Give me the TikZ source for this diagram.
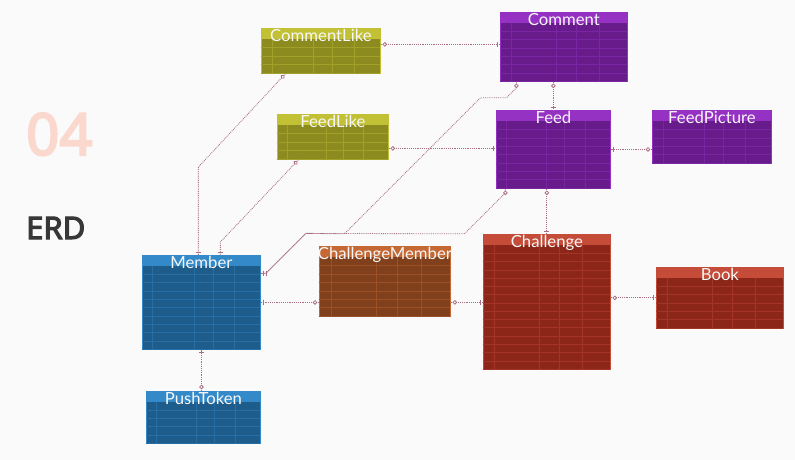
\documentclass[tikz,border=0pt]{standalone}
\usepackage{fontspec}
\setmainfont{Lato}
\newfontfamily\notosans{Noto Sans}[AutoFakeBold=3.5]
\usetikzlibrary{calc,
	positioning,
	decorations.markings}
\definecolor{bgc}{RGB}{250,250,250}
\definecolor{fourc}{RGB}{250,216,205}
\definecolor{erdc}{RGB}{55,55,55}
\definecolor{relc}{RGB}{170,110,132}
\definecolor{oliveh}{RGB}{194,192,52}
\definecolor{oliveb}{RGB}{139,139,32}
\definecolor{purph}{RGB}{150,50,195}
\definecolor{purpb}{RGB}{104,28,140}
\definecolor{blueh}{RGB}{52,138,200}
\definecolor{blueb}{RGB}{30,92,140}
\definecolor{brownh}{RGB}{196,104,52}
\definecolor{brownb}{RGB}{128,64,28}
\definecolor{redh}{RGB}{196,76,56}
\definecolor{redb}{RGB}{139,38,24}
\tikzstyle{tbl}=[draw, line width=0.8pt, inner sep=0, anchor=north west]
\tikzstyle{ttl}=[text=white!97!black, font=\fontsize{16.7}{17}\selectfont,
		inner sep=0, anchor=base]
\tikzstyle{cell}=[line width=0.4pt]
\tikzstyle{rel}=[draw=relc, densely dotted, line width=0.85pt]
\tikzstyle{mk}=[solid, draw=relc, line width=0.8pt]
\tikzstyle{barend}=[postaction={decorate, decoration={markings,
		mark=at position -3pt with {\draw[mk] (0,-2.5pt) -- (0,2.5pt);}}}]
\tikzstyle{dbarend}=[postaction={decorate, decoration={markings,
		mark=at position -3pt with {\draw[mk] (0,-2.5pt) -- (0,2.5pt);},
		mark=at position -6pt with {\draw[mk] (0,-2.5pt) -- (0,2.5pt);}}}]
\tikzstyle{ostart}=[postaction={decorate, decoration={markings,
		mark=at position 4pt with {\draw[mk, fill=white] (0,0) circle (1.8pt);}}}]
% table: name, x1, y1, x2, y2, rows, colour, title
\newcommand{\erdtable}[8]{%
	\node[tbl, draw=#7h, fill=#7b, minimum width={(#4-#2)*1pt},
		minimum height={(#5-#3)*1pt}] (#1) at (#2,#3) {};
	\fill[#7h] (#2,#3) rectangle (#4,#3+11);
	\foreach \i in {1,...,#6} {
		\pgfmathsetmacro\yy{#3+11+\i*(#5-#3-11)/#6}
		\draw[cell, #7h!40!#7b] (#2,\yy) -- (#4,\yy);
	}
	\foreach \f in {0.09,0.44,0.60,0.78} {
		\pgfmathsetmacro\xx{#2+\f*(#4-#2)}
		\draw[cell, #7h!40!#7b] (\xx,#3+11) -- (\xx,#5);
	}
	\node[ttl] (#1-t) at ([yshift=-13.5pt]#1.north) {#8};
}

\begin{document}
\begin{tikzpicture}[x=1pt, y=-1pt]
	\fill[bgc] (0,0) rectangle (795,460);
	\useasboundingbox (0,0) rectangle (795,460);

	\node[font=\notosans\bfseries\fontsize{58}{58}\selectfont, text=fourc,
		anchor=base west, inner sep=0] (num) at (26,155) {04};
	\node[font=\notosans\bfseries\fontsize{31}{31}\selectfont, text=erdc,
		anchor=base west, inner sep=0] (erd) at (26,239) {ERD};

	\erdtable{clike}{261}{28}{380}{73}{4}{olive}{CommentLike}
	\erdtable{comment}{500}{12}{627}{81}{7}{purp}{Comment}
	\erdtable{flike}{277}{114}{388}{159}{4}{olive}{FeedLike}
	\erdtable{feed}{496}{110}{610}{188}{8}{purp}{Feed}
	\erdtable{fpic}{652}{110}{771}{163}{5}{purp}{FeedPicture}
	\erdtable{member}{142}{255}{260}{349}{10}{blue}{Member}
	\erdtable{cm}{319}{246}{450}{316}{7}{brown}{ChallengeMember}
	\erdtable{chal}{483}{234}{610}{369}{15}{red}{Challenge}
	\erdtable{book}{656}{267}{783}{328}{6}{red}{Book}
	\erdtable{ptoken}{146}{391}{260}{443}{5}{blue}{PushToken}

	\coordinate (c1) at ([yshift=6.5pt]clike.east);
	\coordinate (c2) at ([yshift=-11.5pt]flike.east);
	\coordinate (m1) at ([xshift=-3pt]member.north);
	\coordinate (m2) at ([xshift=19pt]member.north);
	\coordinate (m3) at ([yshift=29pt]member.east);

	\draw[rel, ostart, barend] (c1) -- (c1 -| comment.west);
	\draw[rel, ostart, barend] ([xshift=-35.5pt]clike.south)
		-- ([yshift=88pt]m1) -- (m1);
	\draw[rel, ostart, barend] (feed.north |- comment.south) -- (feed.north);
	\draw[rel, ostart, dbarend] ([xshift=-47.5pt]comment.south) -- ++(0,6)
		-- ++(-10,10) -- ++(-26,0) -- ++(-136,136)
		-- ([xshift=45pt,yshift=40pt]m3) -- ([xshift=5pt]m3) -- (m3);
	\draw[rel, ostart, dbarend] ([xshift=-48pt]feed.south) -- ++(0,4)
		-- ++(-41,41) -- ([xshift=45pt,yshift=40pt]m3) -- ([xshift=5pt]m3) -- (m3);
	\draw[rel, ostart, barend] ([xshift=-34.5pt]flike.south)
		-- ([yshift=13pt]m2) -- (m2);
	\draw[rel, ostart, barend] (c2) -- (c2 -| feed.west);
	\draw[rel, barend, ostart] (fpic.west |- feed.east) -- (feed.east);
	\draw[rel, ostart, barend] (chal.north |- feed.south) -- (chal.north);
	\draw[rel, ostart, barend] (member.east -| cm.west) -- (member.east);
	\draw[rel, ostart, barend] (member.east -| cm.east) -- (member.east -| chal.west);
	\draw[rel, ostart, barend] (book.west -| chal.east) -- (book.west);
	\draw[rel, ostart, barend] (member.south |- ptoken.north) -- (member.south);
\end{tikzpicture}
\end{document}
